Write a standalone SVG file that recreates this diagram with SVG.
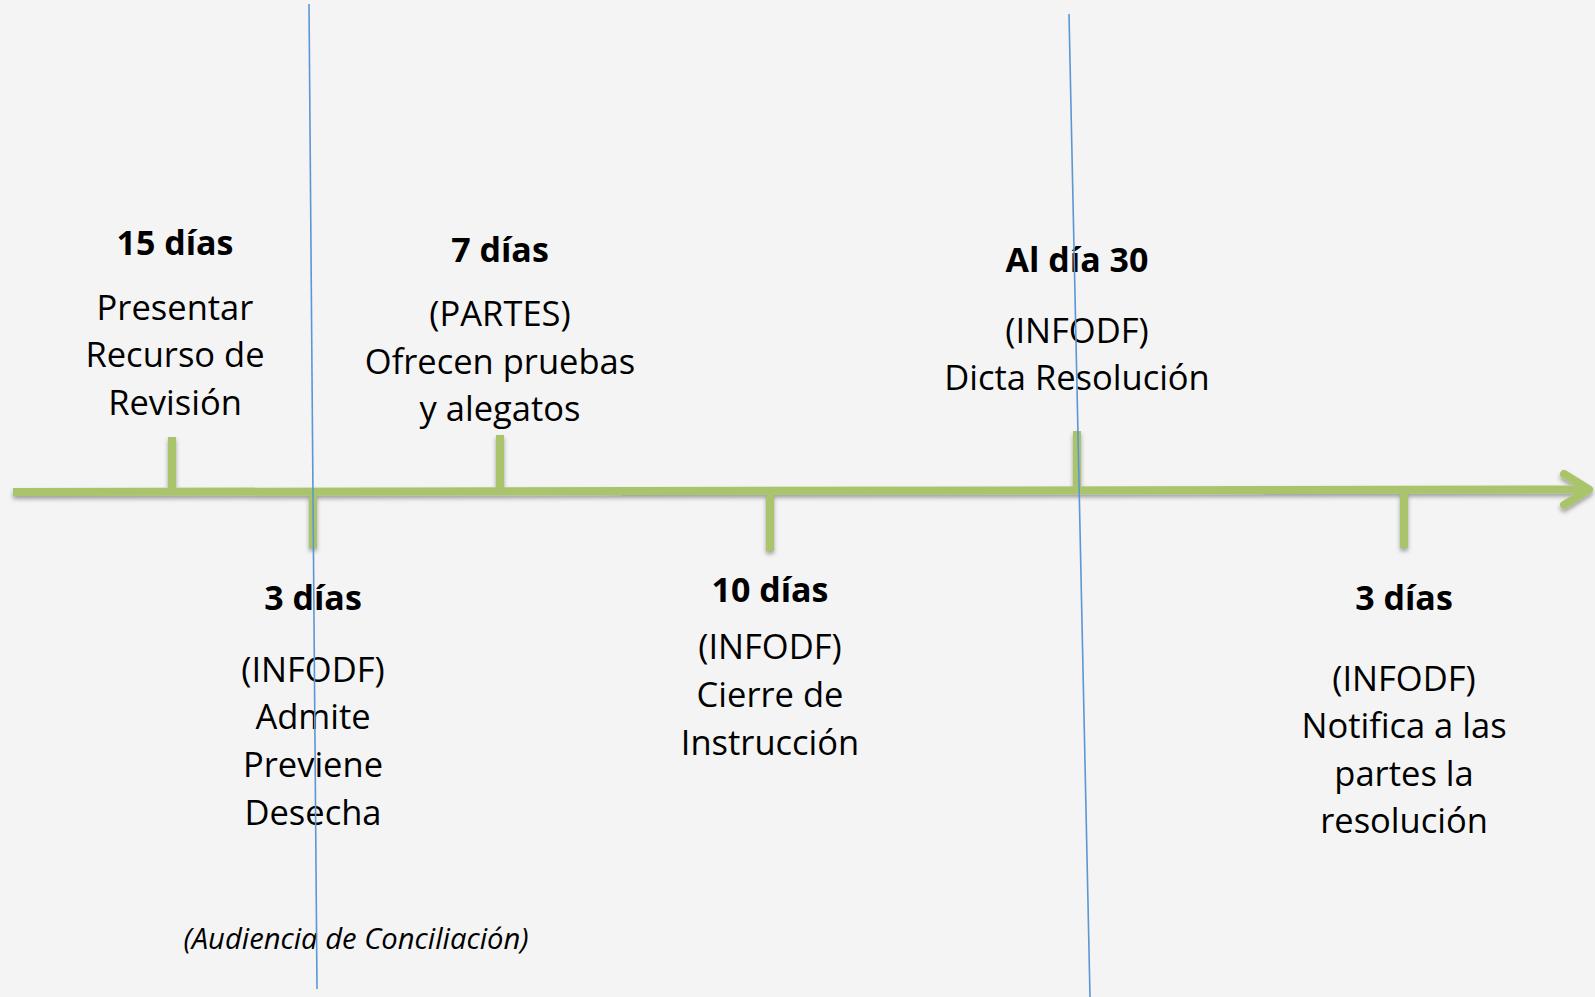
<svg xmlns="http://www.w3.org/2000/svg" width="1595" height="997" viewBox="0 0 1595 997">
<style>
.t{font-family:"Open Sans","Noto Sans","Liberation Sans",sans-serif;font-size:34.5px;fill:#000;text-anchor:middle}
.h{font-weight:bold;font-size:34px}
.i{font-style:italic;font-size:29.2px}
.tl{stroke:#a9c46b;stroke-width:8;fill:none}
.bl{stroke:#5b97d3;stroke-width:1.6;fill:none}
</style>
<defs>
<filter id="sh" x="-5%" y="-50%" width="110%" height="200%">
<feDropShadow dx="0" dy="3" stdDeviation="2" flood-color="#000" flood-opacity="0.35"/>
</filter>
</defs>
<rect width="1595" height="997" fill="#f4f4f4"/>
<g id="connectors">
<g filter="url(#sh)">
<line class="tl" x1="13" y1="492" x2="1588" y2="489.5"/>
<polyline class="tl" points="1564,474 1589,489.5 1564,505" stroke-linecap="round" stroke-linejoin="round"/>
<line class="tl" x1="172" y1="437" x2="172" y2="492"/>
<line class="tl" x1="313" y1="492" x2="313" y2="548"/>
<line class="tl" x1="500" y1="435" x2="500" y2="491"/>
<line class="tl" x1="770" y1="491" x2="770" y2="551"/>
<line class="tl" x1="1077" y1="431" x2="1077" y2="490"/>
<line class="tl" x1="1404" y1="490" x2="1404" y2="548"/>
</g>
</g>
<g id="n15">
<text class="t h" x="175" y="255">15 días</text>
<text class="t" x="175" y="320">Presentar</text>
<text class="t" x="175" y="367">Recurso de</text>
<text class="t" x="175" y="415">Revisión</text>
</g>
<g id="n3a">
<text class="t h" x="313" y="610">3 días</text>
<text class="t" x="313" y="682">(INFODF)</text>
<text class="t" x="313" y="729">Admite</text>
<text class="t" x="313" y="777">Previene</text>
<text class="t" x="313" y="825">Desecha</text>
</g>
<g id="n7">
<text class="t h" x="500" y="262">7 días</text>
<text class="t" x="500" y="326">(PARTES)</text>
<text class="t" x="500" y="374">Ofrecen pruebas</text>
<text class="t" x="500" y="421">y alegatos</text>
</g>
<g id="n10">
<text class="t h" x="770" y="602">10 días</text>
<text class="t" x="770" y="659">(INFODF)</text>
<text class="t" x="770" y="707">Cierre de</text>
<text class="t" x="770" y="755">Instrucción</text>
</g>
<g id="n30">
<text class="t h" x="1077" y="272">Al día 30</text>
<text class="t" x="1077" y="343">(INFODF)</text>
<text class="t" x="1077" y="390">Dicta Resolución</text>
</g>
<g id="n3b">
<text class="t h" x="1404" y="610">3 días</text>
<text class="t" x="1404" y="691">(INFODF)</text>
<text class="t" x="1404" y="738">Notifica a las</text>
<text class="t" x="1404" y="786">partes la</text>
<text class="t" x="1404" y="833">resolución</text>
</g>
<g id="audiencia">
<text class="t i" x="356" y="949">(Audiencia de Conciliación)</text>
</g>
<g id="dividers">
<line class="bl" x1="309" y1="4" x2="317" y2="989"/>
<line class="bl" x1="1069" y1="14" x2="1090" y2="997"/>
</g>
</svg>
